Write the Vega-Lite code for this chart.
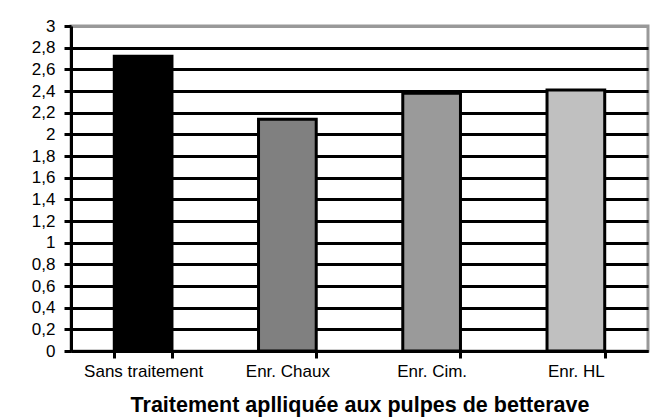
{
  "$schema": "https://vega.github.io/schema/vega-lite/v6.json",
  "width": 577,
  "height": 325,
  "autosize": {"type": "none"},
  "padding": {"left": 71, "top": 26, "right": 7, "bottom": 68},
  "background": "white",
  "data": {
    "values": [
      {"traitement": "Sans traitement", "valeur": 2.72},
      {"traitement": "Enr. Chaux", "valeur": 2.14},
      {"traitement": "Enr. Cim.", "valeur": 2.38},
      {"traitement": "Enr. HL", "valeur": 2.41}
    ]
  },
  "mark": {"type": "bar", "stroke": "black", "strokeWidth": 3},
  "encoding": {
    "x": {
      "field": "traitement",
      "type": "nominal",
      "sort": null,
      "scale": {"paddingInner": 0.6, "paddingOuter": 0.3},
      "axis": {
        "title": "Traitement aplliquée aux pulpes de betterave",
        "labelAngle": 0,
        "tickBand": "extent",
        "domainColor": "black",
        "domainWidth": 3,
        "tickColor": "black",
        "tickWidth": 3,
        "tickSize": 7,
        "labelFont": "Liberation Sans",
        "labelFontSize": 17,
        "labelColor": "black",
        "labelPadding": 5,
        "titleFont": "Liberation Sans",
        "titleFontSize": 21.5,
        "titleFontWeight": "bold",
        "titleColor": "black",
        "titleBaseline": "alphabetic",
        "titleY": 60
      }
    },
    "y": {
      "field": "valeur",
      "type": "quantitative",
      "scale": {"domain": [0, 3]},
      "axis": {
        "title": null,
        "values": [0, 0.2, 0.4, 0.6, 0.8, 1, 1.2, 1.4, 1.6, 1.8, 2, 2.2, 2.4, 2.6, 2.8, 3],
        "labelExpr": "replace(format(datum.value, '.1~f'), '.', ',')",
        "domainColor": "black",
        "domainWidth": 3,
        "tickColor": "black",
        "tickWidth": 3,
        "tickSize": 7,
        "labelFont": "Liberation Sans",
        "labelFontSize": 17,
        "labelColor": "black",
        "labelPadding": 9,
        "grid": true,
        "gridWidth": 3,
        "gridColor": {"condition": {"test": "datum.value >= 3", "value": "#999999"}, "value": "black"}
      }
    },
    "fill": {
      "field": "traitement",
      "type": "nominal",
      "sort": null,
      "scale": {
        "domain": ["Sans traitement", "Enr. Chaux", "Enr. Cim.", "Enr. HL"],
        "range": ["#000000", "#808080", "#9a9a9a", "#c0c0c0"]
      },
      "legend": null
    }
  },
  "config": {
    "view": {"stroke": "#999999", "strokeWidth": 3},
    "font": "Liberation Sans"
  }
}
